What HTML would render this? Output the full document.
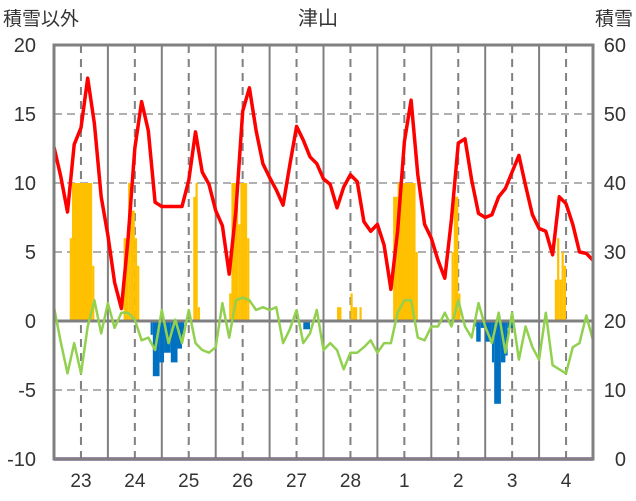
<!DOCTYPE html>
<html><head><meta charset="utf-8">
<style>
html,body{margin:0;padding:0;background:#fff;}
svg{display:block;font-family:"Liberation Sans","Noto Sans CJK JP",sans-serif;}
</style></head>
<body>
<svg id="chart" width="636" height="501" viewBox="0 0 636 501">
  <text x="318" y="25" font-size="20" text-anchor="middle" fill="#333">津山</text>
  <text x="3" y="25" font-size="19" fill="#333">積雪以外</text>
  <text x="633" y="25" font-size="19" text-anchor="end" fill="#333">積雪</text>
  <g id="grid"></g>
  <g id="bars"></g>
  <g id="lines"></g>
  <g id="axes"></g>
</svg>
<script>
const dayLabels = ["23","24","25","26","27","28","1","2","3","4"];
const leftTicks = [20,15,10,5,0,-5,-10];
const rightTicks = [60,50,40,30,20,10,0];
// 3-hourly temperature-like series (81 points)
const redSeries = [12.6,10.5,7.9,12.8,14,17.6,14.3,9.0,6.2,2.8,0.9,6.0,12.5,15.9,13.8,8.6,8.3,8.3,8.3,8.3,
10.2,13.7,10.8,9.9,8.0,6.9,3.4,8.0,15.2,16.9,13.8,11.4,10.4,9.5,8.4,11.3,14.1,13.1,11.9,11.4,
10.3,9.9,8.2,9.7,10.6,10.1,7.2,6.5,7.0,5.5,2.3,6.5,13.0,16.0,10.6,7.0,6.0,4.4,3.1,7.4,
12.9,13.2,10.2,7.8,7.5,7.7,9.0,9.6,10.8,12.0,9.8,7.7,6.7,6.5,4.8,9.0,8.5,7.0,5.0,4.9,4.4];
const greenSeries = [1.0,-1.5,-3.8,-1.6,-3.8,-0.4,1.5,-0.9,1.3,-0.5,0.6,0.6,0.1,-1.4,-1.2,-2.1,0.8,-1.6,0.1,-1.6,
0.8,-1.6,-2.1,-2.3,-1.9,1.3,-1.2,1.5,1.7,1.5,0.8,1.0,0.8,1.0,-1.6,-0.6,0.8,-1.6,-0.9,0.8,
-2.1,-1.6,-2.1,-3.5,-2.3,-2.3,-1.9,-1.4,-2.3,-1.6,-1.6,0.6,1.5,1.5,-1.2,-1.4,-0.4,-0.4,0.6,-0.4,
1.5,-0.4,-1.2,1.3,-0.4,-1.6,0.6,-2.3,0.6,-2.8,-0.4,-1.9,-2.8,0.6,-3.2,-3.5,-3.8,-1.9,-1.6,0.4,-1.4];
// bar runs: [startHour, durationHours, value]
const orangeRuns = [[7,1,6],[8,9,10],[17,1,4],[31,2,6],[33,1,10],[34,2,8],[36,1,6],[37,1,4],
[62,1,9],[63,1,10],[64,1,1],[78,1,2],[79,3,10],[82,1,7],[83,3,10],[86,1,6],
[126,2,1],[132,1,2],[133,2,1],[136,1,1],[151,2,9],[153,8,10],[161,1,5],
[177,1,5],[178,2,9],[180,1,2],[223,1,3],[224,1,6],[225,1,3],[226,1,5],[227,1,4]];
const blueRuns = [[43,1,-1],[44,3,-4],[47,2,-3],[49,3,-2.3],[52,3,-3],[55,2,-2],[57,1,-1],
[111,3,-0.6],[187,1,-0.4],[188,2,-1.5],[190,2,-0.5],[192,3,-1.5],[195,1,-3],[196,3,-6],[199,2,-3],[201,1,-2.5],[202,3,-0.5]];
const snowDepth = [0,0];

const NS="http://www.w3.org/2000/svg";
const X0=54,X1=593,Y0=45,Y1=459;
const totalHours=dayLabels.length*24;
function xH(h){return X0+(X1-X0)*h/totalHours;}
function yL(v){return Y1-(v+10)/30*(Y1-Y0);}
function yR(v){return Y1-v/60*(Y1-Y0);}
function mk(tag,attrs,parent){const e=document.createElementNS(NS,tag);for(const k in attrs)e.setAttribute(k,attrs[k]);parent.appendChild(e);return e;}
const grid=document.getElementById('grid'),bars=document.getElementById('bars'),lines=document.getElementById('lines'),axes=document.getElementById('axes');

leftTicks.forEach(v=>{
  if(v===20||v===-10||v===0)return;
  const l=mk('line',{x1:X0,x2:X1,y1:yL(v),y2:yL(v),stroke:'#b0b0b0','stroke-width':2,'stroke-dasharray':'8,5'},grid);
  
  
});
dayLabels.forEach((d,i)=>{
  if(i>0){const l=mk('line',{x1:xH(i*24),x2:xH(i*24),y1:Y0,y2:Y1,stroke:'#808080','stroke-width':2},grid);
  
  }
  const m=mk('line',{x1:xH(i*24+12),x2:xH(i*24+12),y1:Y0,y2:Y1,stroke:'#808080','stroke-width':2,'stroke-dasharray':'8,6'},grid);
  
  
  const t=mk('text',{x:xH(i*24+12),y:487,'font-size':19,'text-anchor':'middle',fill:'#333'},axes);
  t.textContent=d;
  
  
});
orangeRuns.forEach(r=>{
  const b=mk('rect',{x:xH(r[0]),y:yL(r[2]),width:xH(r[0]+r[1])-xH(r[0]),height:yL(0)-yL(r[2]),fill:'#ffc000'},bars);
  
  
});
blueRuns.forEach(r=>{
  const b=mk('rect',{x:xH(r[0]),y:yL(0),width:xH(r[0]+r[1])-xH(r[0]),height:yL(r[2])-yL(0),fill:'#0070c0'},bars);
  
  
});
const z=mk('line',{x1:X0,x2:X1,y1:yL(0),y2:yL(0),stroke:'#808080','stroke-width':3},lines);


function pathOf(arr){const step=totalHours/(arr.length-1);return arr.map((v,i)=>(i?'L':'M')+xH(i*step).toFixed(1)+','+yL(v).toFixed(1)).join(' ');}
const g=mk('path',{d:pathOf(greenSeries),fill:'none',stroke:'#92d050','stroke-width':2.5,'stroke-linejoin':'round'},lines);


const r=mk('path',{d:pathOf(redSeries),fill:'none',stroke:'#ff0000','stroke-width':3.5,'stroke-linejoin':'round'},lines);


const sd=mk('path',{d:snowDepth.map((v,i)=>(i?'L':'M')+xH(i*totalHours/(snowDepth.length-1))+','+yR(v)).join(' '),stroke:'#7030a0','stroke-width':3.5,fill:'none'},lines);


const fr=mk('rect',{x:X0,y:Y0,width:X1-X0,height:Y1-Y0,fill:'none',stroke:'#808080','stroke-width':3},axes);


leftTicks.forEach(v=>{
  const t=mk('text',{x:36,y:yL(v)+7,'font-size':20,'text-anchor':'end',fill:'#333'},axes);
  t.textContent=v;
  
  
});
rightTicks.forEach(v=>{
  const t=mk('text',{x:626,y:yR(v)+7,'font-size':20,'text-anchor':'end',fill:'#333'},axes);
  t.textContent=v;
  
  
});
</script>
</body></html>
